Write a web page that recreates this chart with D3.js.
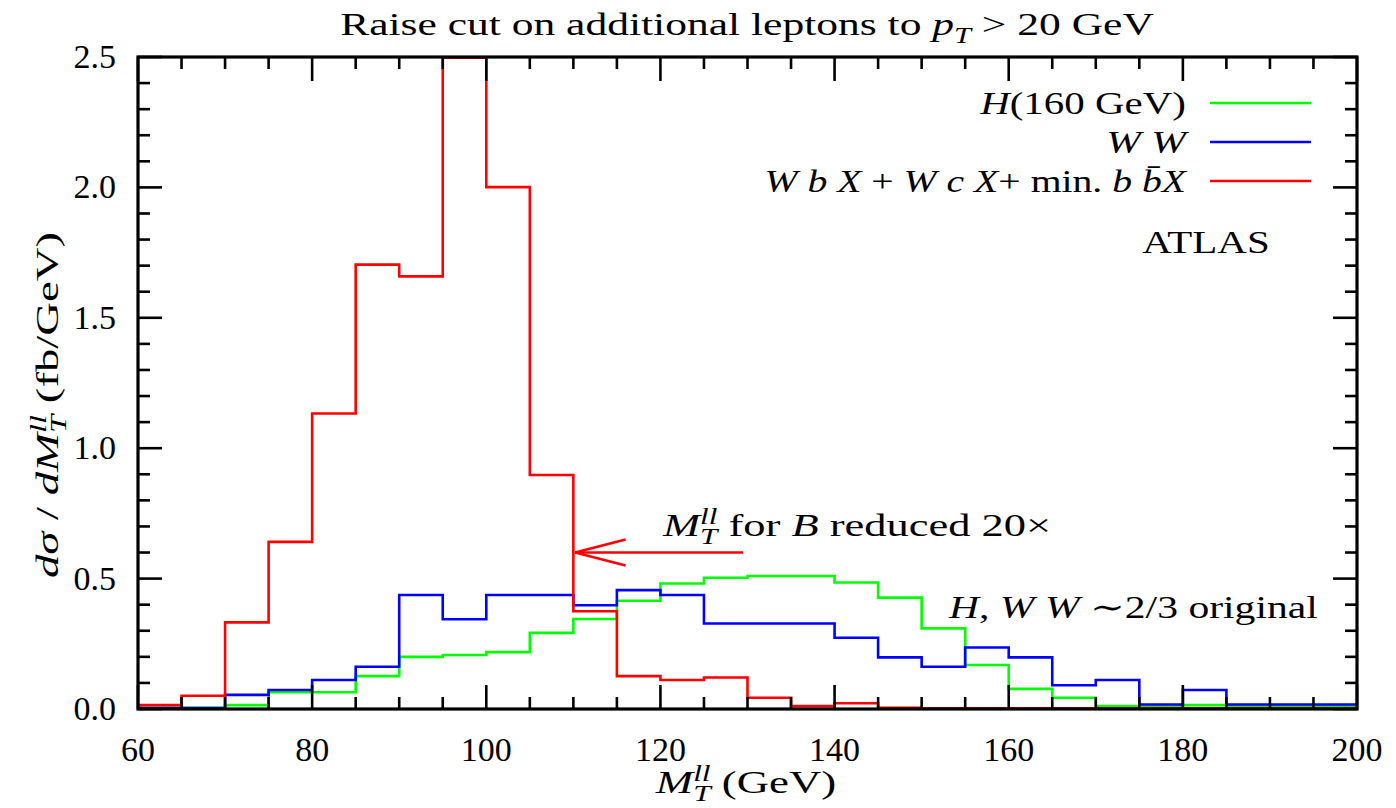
<!DOCTYPE html>
<html>
<head>
<meta charset="utf-8">
<script src="https://cdn.jsdelivr.net/npm/d3@7"></script>
<style>
  body { margin: 0; background: #fff; }
  svg text { font-family: "Liberation Serif", "DejaVu Serif", serif; fill: #000; }
</style>
</head>
<body>
<div id="vis"></div>
<script>
const W = 1396, H = 808;
const margin = { top: 57, right: 39, bottom: 99, left: 138 };
const width = W - margin.left - margin.right;
const height = H - margin.top - margin.bottom;

// bin edges of the histograms (GeV)
const binEdges = d3.range(60, 205, 5);

// dsigma/dM (fb/GeV), one value per 5 GeV bin
const higgs = [0.005, 0.005, 0.015, 0.064, 0.064, 0.126, 0.200, 0.207, 0.218, 0.292,
               0.345, 0.415, 0.481, 0.503, 0.510, 0.510, 0.485, 0.427, 0.309, 0.169,
               0.077, 0.043, 0.011, 0.011, 0.015, 0.011, 0.010, 0.013];
const ww    = [0.004, 0.004, 0.054, 0.073, 0.111, 0.162, 0.437, 0.344, 0.437, 0.437,
               0.398, 0.456, 0.437, 0.328, 0.328, 0.328, 0.273, 0.198, 0.162, 0.236,
               0.198, 0.091, 0.111, 0.017, 0.073, 0.017, 0.017, 0.017];
const wbx   = [0.015, 0.051, 0.332, 0.641, 1.133, 1.704, 1.659, 2.497, 2.001, 0.897,
               0.375, 0.126, 0.111, 0.121, 0.043, 0.011, 0.022, 0.005, 0.003, 0.003,
               0.003, 0.003, 0.003, 0.003, 0.003, 0.003, 0.003, 0.003];

const xMajor = [60, 80, 100, 120, 140, 160, 180, 200];
const xMinor = d3.range(60, 201, 5);
const yMajor = [0, 0.5, 1.0, 1.5, 2.0, 2.5];
const yMinor = d3.range(0, 2.501, 0.1);

const seriesColors = ['#00ff00', '#0000ff', '#ff0000'];
const FS = 32;

const svg = d3.select("#vis")
    .append("svg")
        .attr("width", W)
        .attr("height", H);

const g = svg.append("g")
    .attr("transform", `translate(${margin.left},${margin.top})`);

const xScale = d3.scaleLinear().domain([60, 200]).range([0, width]);
const yScale = d3.scaleLinear().domain([0, 2.5]).range([height, 0]);

// text placed at (x,y), widened along its baseline by sx (TeX fonts run wider than Times)
function addText(x, y, anchor, sx, rot) {
    return svg.append("text")
        .attr("transform", `translate(${x},${y})${rot ? ` rotate(${rot})` : ""} scale(${sx},1)`)
        .attr("text-anchor", anchor)
        .style("font-size", FS + "px");
}

// parts = [{t, it, sup, sub, stack, back}]
function rich(sel, parts) {
    const size = FS;
    let prevSup = null;
    parts.forEach(p => {
        const ts = sel.append("tspan").text(p.t);
        if (p.it) ts.style("font-style", "italic");
        if (p.sup) {
            ts.attr("dy", -size * 0.38).style("font-size", (size * 0.7) + "px");
            prevSup = ts;
        } else if (p.sub) {
            ts.style("font-size", (size * 0.7) + "px");
            if (p.stack && prevSup) {
                const w = prevSup.node().getComputedTextLength();
                ts.attr("dx", -w).attr("dy", size * 0.62);
            } else {
                ts.attr("dy", size * 0.24);
            }
        } else if (p.back) {
            ts.attr("dy", -size * 0.24);
        }
    });
    return sel;
}

// histograms
const stepLine = d3.line()
    .x(d => xScale(d[0]))
    .y(d => yScale(d[1]));

function stepPoints(values) {
    const pts = [];
    values.forEach((v, i) => {
        pts.push([binEdges[i], v]);
        pts.push([binEdges[i + 1], v]);
    });
    return pts;
}

[higgs, ww, wbx].forEach((vals, i) => {
    g.append("path")
        .attr("d", stepLine(stepPoints(vals)))
        .attr("fill", "none")
        .attr("stroke", seriesColors[i])
        .attr("stroke-width", 2.6);
});

// frame + ticks on all four sides
const tickG = g.append("g").attr("stroke", "#000").attr("stroke-width", 2.6);
xMinor.forEach(v => {
    const len = xMajor.includes(v) ? 24 : 12;
    tickG.append("line").attr("x1", xScale(v)).attr("x2", xScale(v))
        .attr("y1", height).attr("y2", height - len);
    tickG.append("line").attr("x1", xScale(v)).attr("x2", xScale(v))
        .attr("y1", 0).attr("y2", len);
});
yMinor.forEach(v => {
    const isMajor = yMajor.some(m => Math.abs(m - v) < 1e-6);
    const len = isMajor ? 24 : 12;
    tickG.append("line").attr("x1", 0).attr("x2", len)
        .attr("y1", yScale(v)).attr("y2", yScale(v));
    tickG.append("line").attr("x1", width).attr("x2", width - len)
        .attr("y1", yScale(v)).attr("y2", yScale(v));
});
g.append("rect")
    .attr("width", width).attr("height", height)
    .attr("fill", "none").attr("stroke", "#000").attr("stroke-width", 3.2);

// tick labels
g.selectAll(".xlab").data(xMajor).join("text")
    .attr("class", "xlab")
    .attr("x", d => xScale(d))
    .attr("y", height + 52)
    .attr("text-anchor", "middle")
    .style("font-size", "34px")
    .text(d => d);

g.selectAll(".ylab").data(yMajor).join("text")
    .attr("class", "ylab")
    .attr("x", -22)
    .attr("y", d => yScale(d) + 11)
    .attr("text-anchor", "end")
    .style("font-size", "34px")
    .text(d => d.toFixed(1));

// title
rich(addText(747, 35, "middle", 1.36),
    [{t: "Raise cut on additional leptons to "}, {t: "p", it: true}, {t: "T", it: true, sub: true},
     {t: " > 20 GeV", back: true}]);

// x axis title
rich(addText(746, 793, "middle", 1.4),
    [{t: "M", it: true}, {t: "ll", it: true, sup: true}, {t: "T", it: true, sub: true, stack: true},
     {t: "  (GeV)", back: true}]);

// y axis title
rich(addText(58, 405, "middle", 1.46, -90),
    [{t: "dσ", it: true}, {t: " / "}, {t: "dM", it: true}, {t: "ll", it: true, sup: true},
     {t: "T", it: true, sub: true, stack: true}, {t: "  (fb/GeV)", back: true}]);

// legend
const legendLabels = [
    [{t: "H", it: true}, {t: "(160 GeV)"}],
    [{t: "W W", it: true}],
    [{t: "W b X", it: true}, {t: " + "}, {t: "W c X", it: true}, {t: "+ min. "}, {t: "b b\u0304X", it: true}]
];
const legendScale = [1.28, 1.3, 1.24];
const legendY = [103, 142, 181];
legendLabels.forEach((parts, i) => {
    rich(addText(1186, legendY[i] + 11, "end", legendScale[i]), parts);
    svg.append("line")
        .attr("x1", 1210).attr("x2", 1311)
        .attr("y1", legendY[i]).attr("y2", legendY[i])
        .attr("stroke", seriesColors[i]).attr("stroke-width", 2.6);
});

addText(1206, 253, "middle", 1.28).text("ATLAS");

// annotations
rich(addText(663, 536, "start", 1.39),
    [{t: "M", it: true}, {t: "ll", it: true, sup: true}, {t: "T", it: true, sub: true, stack: true},
     {t: " for ", back: true}, {t: "B", it: true}, {t: " reduced 20×"}]);

const arrowY = yScale(0.6);
const arrowG = g.append("g").attr("stroke", "#ff0000").attr("stroke-width", 2.6).attr("fill", "none");
arrowG.append("line").attr("x1", xScale(129.5)).attr("x2", xScale(110.2)).attr("y1", arrowY).attr("y2", arrowY);
arrowG.append("path").attr("d", `M${xScale(116)},${arrowY - 13} L${xScale(110.2)},${arrowY} L${xScale(116)},${arrowY + 13}`);

rich(addText(949, 618, "start", 1.3),
    [{t: "H", it: true}, {t: ", "}, {t: "W W", it: true}, {t: " ∼2/3 original"}]);
</script>
</body>
</html>
